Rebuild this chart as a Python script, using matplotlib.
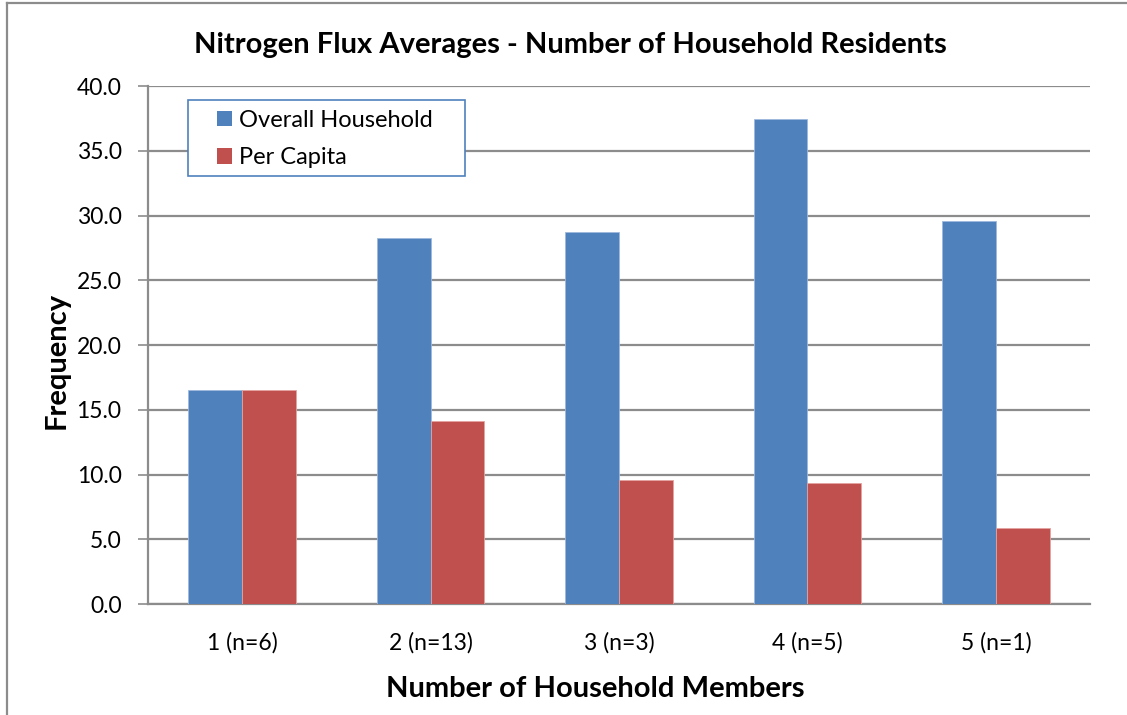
import matplotlib
matplotlib.use('Agg')
import matplotlib.pyplot as plt
import numpy as np
from matplotlib.lines import Line2D
from matplotlib.patches import Patch, Rectangle

plt.rcParams['font.family'] = ['Lato', 'DejaVu Sans']

categories = ['1 (n=6)', '2 (n=13)', '3 (n=3)', '4 (n=5)', '5 (n=1)']
overall_household = [16.5, 28.3, 28.7, 37.45, 29.6]
per_capita = [16.5, 14.1, 9.55, 9.35, 5.9]
yticks = [0, 5, 10, 15, 20, 25, 30, 35, 40]

blue = '#4F81BD'
red = '#C0504D'
grid_grey = '#8C8C8C'

fig = plt.figure(figsize=(11.27, 7.15), dpi=100)
ax = fig.add_axes([0.1313, 0.1552, 0.9672 - 0.1313, 0.8797 - 0.1552])

x = np.arange(len(categories))
w = 1 / 3.5
ax.bar(x - w / 2, overall_household, w, color=blue, edgecolor='#9DB8DC', linewidth=0.6,
       zorder=3, label='Overall Household')
ax.bar(x + w / 2, per_capita, w, color=red, edgecolor='#E3A3A1', linewidth=0.6,
       zorder=3, label='Per Capita')

ax.set_xlim(-0.5, len(categories) - 0.5)
ax.set_ylim(0, 40)
ax.set_yticks(yticks)
ax.set_yticklabels([f'{v:.1f}' for v in yticks])
ax.set_xticks(x)
ax.set_xticklabels(categories)
ax.yaxis.grid(True, color=grid_grey, linewidth=1.6, zorder=0)
ax.tick_params(axis='y', length=7, width=1.2, color=grid_grey, labelsize=16.5, pad=12)
ax.tick_params(axis='x', length=0, labelsize=16.5, pad=20)

for side in ['top', 'right']:
    ax.spines[side].set_visible(False)
for side in ['left', 'bottom']:
    ax.spines[side].set_color(grid_grey)
    ax.spines[side].set_linewidth(1.6)

fig.text(570 / 1127, 1 - 45 / 715, 'Nitrogen Flux Averages - Number of Household Residents',
         fontsize=21, fontweight='bold', ha='center', va='center')
ax.set_ylabel('Frequency', fontsize=21, fontweight='bold', labelpad=5)
ax.set_xlabel('Number of Household Members', fontsize=21, fontweight='bold', labelpad=16)
ax.xaxis.label.set_x(0.4745)
ax.yaxis.label.set_y(0.471)

# legend entries without frame, frame drawn separately
handles = [Patch(facecolor=blue, label='Overall Household'),
           Patch(facecolor=red, label='Per Capita')]
leg = ax.legend(handles=handles, loc='upper left', bbox_to_anchor=(0.0732, 0.954),
                fontsize=17, frameon=False, borderpad=0,
                handlelength=0.63, handleheight=0.63, handletextpad=0.3,
                labelspacing=0.7, borderaxespad=0)
leg.set_zorder(5)
ax.add_patch(Rectangle((0.0425, 0.826), 0.3365 - 0.0425, 0.973 - 0.826,
                       transform=ax.transAxes, facecolor='white', edgecolor=blue,
                       linewidth=1.2, zorder=4))

# outer chart border (top and left edges)
fig.add_artist(Line2D([7 / 1127, 1.0], [1 - 3 / 715, 1 - 3 / 715],
                      transform=fig.transFigure, color=grid_grey, linewidth=1.6))
fig.add_artist(Line2D([7 / 1127, 7 / 1127], [0, 1 - 3 / 715],
                      transform=fig.transFigure, color=grid_grey, linewidth=1.6))

fig.savefig('out.png', dpi=100)
